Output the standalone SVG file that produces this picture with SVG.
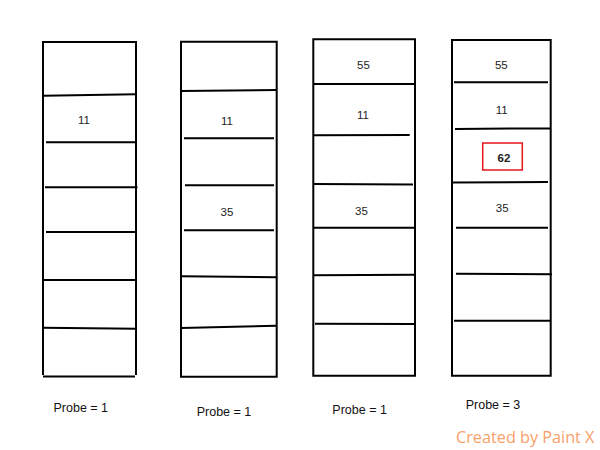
<svg xmlns="http://www.w3.org/2000/svg" width="600" height="450" viewBox="0 0 600 450">
<style>
.ln{stroke:#000;stroke-width:2;fill:none;stroke-linecap:butt}
.num{font-family:"Liberation Sans",Arial,sans-serif;font-size:11.5px;fill:#222;text-anchor:middle}
.probe{font-family:"Liberation Sans",Arial,sans-serif;font-size:12.5px;fill:#111}
.credit{font-family:"Open Sans","DejaVu Sans",sans-serif;font-size:16.5px;fill:#f9a06a}
</style>
<rect width="600" height="450" fill="#fff"/>
<g id="table1">
<path class="ln" d="M43 42H136M43 41V375M136 41V375M43 376.5H135"/>
<path class="ln" d="M43 95.7L136 94.3M46 142.3H135M45 187.3H137.5M46 232H135M43 280H136M43 327.7L136 328.7"/>
<text class="num" x="84" y="124">11</text>
<text class="probe" x="53.5" y="412">Probe = 1</text>
</g>
<g id="table2">
<path class="ln" d="M181 41.7H276.7V376.7H181Z"/>
<path class="ln" d="M181 91L276.7 90M184 138.3H274M185 185.3H274M184 230.3H274M181 276.3L276.7 277.3M181 328L276.7 325.7"/>
<text class="num" x="227" y="124.5">11</text>
<text class="num" x="227" y="215.5">35</text>
<text class="probe" x="196.7" y="416">Probe = 1</text>
</g>
<g id="table3">
<path class="ln" d="M313.3 39.3H415V375.7H313.3Z"/>
<path class="ln" d="M313.3 84H415M313.3 135.3L409.7 135M313.3 184L413 184.5M313.3 227.7H414M313.3 275.3L415 274.7M315 323.7L414 324"/>
<text class="num" x="363.5" y="68.5">55</text>
<text class="num" x="363" y="119">11</text>
<text class="num" x="361.5" y="214.5">35</text>
<text class="probe" x="332.3" y="414">Probe = 1</text>
</g>
<g id="table4">
<path class="ln" d="M452 40H550.7V375.7H452Z"/>
<path class="ln" d="M454 82.3H548M455 128.9L551 128.4M453 182.5L548 182M456 227.7H548M456 273.7L552 274.3M454 320.7H551"/>
<text class="num" x="501.3" y="68.5">55</text>
<text class="num" x="501.7" y="114.3">11</text>
<rect x="482.7" y="143" width="39.6" height="27" fill="none" stroke="#e8141a" stroke-width="1.5"/>
<text class="num" x="504" y="161.7" font-weight="bold" fill="#111">62</text>
<text class="num" x="502.2" y="212.3">35</text>
<text class="probe" x="465.7" y="409.3" fill="#000">Probe = 3</text>
</g>
<text class="credit" x="456" y="443.3" textLength="138.5" lengthAdjust="spacingAndGlyphs">Created by Paint X</text>
</svg>
